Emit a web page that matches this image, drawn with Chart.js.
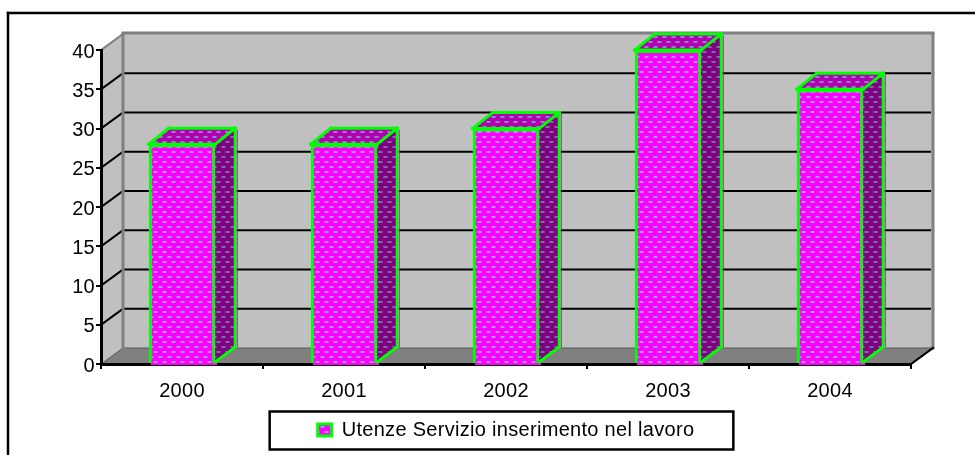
<!DOCTYPE html>
<html><head><meta charset="utf-8">
<style>html,body{margin:0;padding:0;background:#fff}#wrap{width:975px;height:455px}canvas{display:block}</style>
<script src="https://cdn.jsdelivr.net/npm/chart.js@4"></script>
</head><body><div id="wrap"><canvas id="c" width="975" height="455"></canvas></div>
<script>
const categories = ['2000','2001','2002','2003','2004'];
const seriesName = 'Utenze Servizio inserimento nel lavoro';
const values = [28, 28, 30, 40, 35];

const WALL_X = 22, WALL_Y = 16, BAR_X = 20, BAR_Y = 16;
const FONT = '"Liberation Sans", Arial, sans-serif';
const FS = 20;
const TRACKING = '0.3px';

function dotted(base, dot, halo) {
  const p = document.createElement('canvas'); p.width = 9; p.height = 10;
  const g = p.getContext('2d');
  g.fillStyle = base; g.fillRect(0, 0, 9, 10);
  g.fillStyle = halo;
  g.fillRect(0, 1, 5, 2); g.fillRect(5, 6, 4, 2); g.fillRect(0, 6, 1, 2);
  g.fillStyle = dot;
  g.fillRect(1, 1, 3, 2); g.fillRect(6, 6, 3, 2);
  return g.createPattern(p, 'repeat');
}
const ctx0 = document.getElementById('c').getContext('2d');
const frontFill = dotted('#ff00ff', '#8fa0ff', '#e040ff');
const sideFill = dotted('#800080', '#7a6ab0', '#803a98');
const topFill = dotted('#b000b0', '#9080d0', '#a848c0');

function poly(ctx, pts, fill, stroke, lw) {
  ctx.beginPath();
  pts.forEach((p, i) => i ? ctx.lineTo(p[0], p[1]) : ctx.moveTo(p[0], p[1]));
  ctx.closePath();
  if (fill) { ctx.fillStyle = fill; ctx.fill(); }
  if (stroke) { ctx.strokeStyle = stroke; ctx.lineWidth = lw; ctx.stroke(); }
}
function seg(ctx, x1, y1, x2, y2, c, lw) {
  ctx.beginPath(); ctx.moveTo(x1, y1); ctx.lineTo(x2, y2);
  ctx.lineCap = 'square';
  ctx.strokeStyle = c; ctx.lineWidth = lw; ctx.stroke();
}

const scene = {
  id: 'scene',
  beforeLayout(chart) { chart.ctx.letterSpacing = TRACKING; },
  beforeDraw(chart) {
    const { ctx, chartArea: a, scales: { y } } = chart;
    ctx.letterSpacing = TRACKING;
    ctx.save();
    ctx.fillStyle = '#fff'; ctx.fillRect(0, 0, chart.width, chart.height);
    // outer frame
    seg(ctx, 8, 13, chart.width, 13, '#000', 2.5);
    seg(ctx, 8, 13, 8, chart.height, '#000', 2.5);
    const L = a.left, R = a.right, T = y.getPixelForValue(40), B = y.getPixelForValue(0);
    // back wall
    poly(ctx, [[L + WALL_X, T - WALL_Y], [R + WALL_X, T - WALL_Y], [R + WALL_X, B - WALL_Y], [L + WALL_X, B - WALL_Y]], '#c0c0c0');
    // left wall
    poly(ctx, [[L, T], [L + WALL_X, T - WALL_Y], [L + WALL_X, B - WALL_Y], [L, B]], '#c0c0c0');
    // floor
    poly(ctx, [[L, B], [R, B], [R + WALL_X, B - WALL_Y], [L + WALL_X, B - WALL_Y]], '#808080');
    seg(ctx, L + WALL_X, B - WALL_Y, R + WALL_X, B - WALL_Y, '#5a5a5a', 1);
    seg(ctx, L, B, L + WALL_X, B - WALL_Y, '#5a5a5a', 1);
    // gridlines on the walls
    y.ticks.forEach(t => {
      if (t.value === 0 || t.value === 40) return;
      const py = y.getPixelForValue(t.value);
      seg(ctx, L + WALL_X, py - WALL_Y, R + WALL_X - 3, py - WALL_Y, '#000', 2);
      seg(ctx, L, py, L + WALL_X, py - WALL_Y, '#000', 2);
    });
    // wall frame
    seg(ctx, L + WALL_X, T - WALL_Y - 1, R + WALL_X, T - WALL_Y - 1, '#808080', 3);
    seg(ctx, L + WALL_X, T - WALL_Y, L + WALL_X, B - WALL_Y, '#808080', 3);
    seg(ctx, R + WALL_X, T - WALL_Y, R + WALL_X, B - WALL_Y, '#808080', 3);
    seg(ctx, L, T, L + WALL_X, T - WALL_Y, '#808080', 2);
    seg(ctx, R, B, R + WALL_X, B - WALL_Y, '#000', 2);
    // legend frame
    const hb = chart.legend.legendHitBoxes[0];
    ctx.strokeStyle = '#000'; ctx.lineWidth = 2.5;
    ctx.strokeRect(hb.left - 48, chart.legend.top + 0.5, hb.width + 87, chart.legend.height - 1);
    ctx.restore();
  },
  afterDatasetsDraw(chart) {
    const { ctx } = chart;
    ctx.save();
    chart.getDatasetMeta(0).data.forEach(b => {
      const l = b.x - b.width / 2, r = b.x + b.width / 2, t = b.y, bot = b.base;
      const G = '#00ff00';
      ctx.fillStyle = frontFill;
      ctx.fillRect(l + 2, bot, b.width, 2);
      poly(ctx, [[r, t], [r + BAR_X, t - BAR_Y], [r + BAR_X, bot - BAR_Y], [r, bot]], sideFill);
      poly(ctx, [[l, t], [l + BAR_X, t - BAR_Y], [r + BAR_X, t - BAR_Y], [r, t]], topFill);
      seg(ctx, r + BAR_X + 2, t - BAR_Y + 2, r + BAR_X + 2, bot - BAR_Y, '#c000c0', 1);
      seg(ctx, r, t, r + BAR_X, t - BAR_Y, G, 3);
      seg(ctx, l, t, l + BAR_X, t - BAR_Y, G, 3);
      seg(ctx, l + BAR_X, t - BAR_Y, r + BAR_X, t - BAR_Y, G, 3);
      seg(ctx, r + BAR_X, t - BAR_Y, r + BAR_X, bot - BAR_Y, G, 3);
      seg(ctx, r, bot - 1, r + BAR_X, bot - BAR_Y, G, 3);
      seg(ctx, l, t, r, t, G, 3);
    });
    ctx.restore();
  }
};

new Chart(ctx0, {
  type: 'bar',
  plugins: [scene],
  data: {
    labels: categories,
    datasets: [{
      label: seriesName,
      data: values,
      backgroundColor: frontFill,
      borderColor: '#00ff00',
      borderWidth: 3,
      barPercentage: 0.41,
      categoryPercentage: 1
    }]
  },
  options: {
    responsive: false,
    animation: false,
    layout: { padding: { top: 50, right: 64, bottom: 5, left: 0 } },
    plugins: {
      tooltip: { enabled: false },
      legend: {
        display: true,
        position: 'bottom',
        fullSize: false,
        labels: { color: '#000', font: { family: FONT, size: FS }, boxWidth: 14, boxHeight: 12, padding: 9 }
      }
    },
    scales: {
      x: {
        afterFit(s) { s.height = 47; },
        grid: { drawOnChartArea: false, color: '#000', lineWidth: 2, tickLength: 5, tickColor: '#000' },
        border: { color: '#000', width: 3 },
        ticks: { color: '#000', font: { family: FONT, size: FS }, padding: 10, maxRotation: 0 }
      },
      y: {
        min: 0, max: 40,
        afterFit(s) { s.width = 101; },
        grid: { drawOnChartArea: false, color: '#000', lineWidth: 2, tickLength: 5, tickColor: '#000' },
        border: { color: '#000', width: 3 },
        ticks: { color: '#000', font: { family: FONT, size: FS }, stepSize: 5, padding: 1, labelOffset: 2 }
      }
    }
  }
});
</script></body></html>
